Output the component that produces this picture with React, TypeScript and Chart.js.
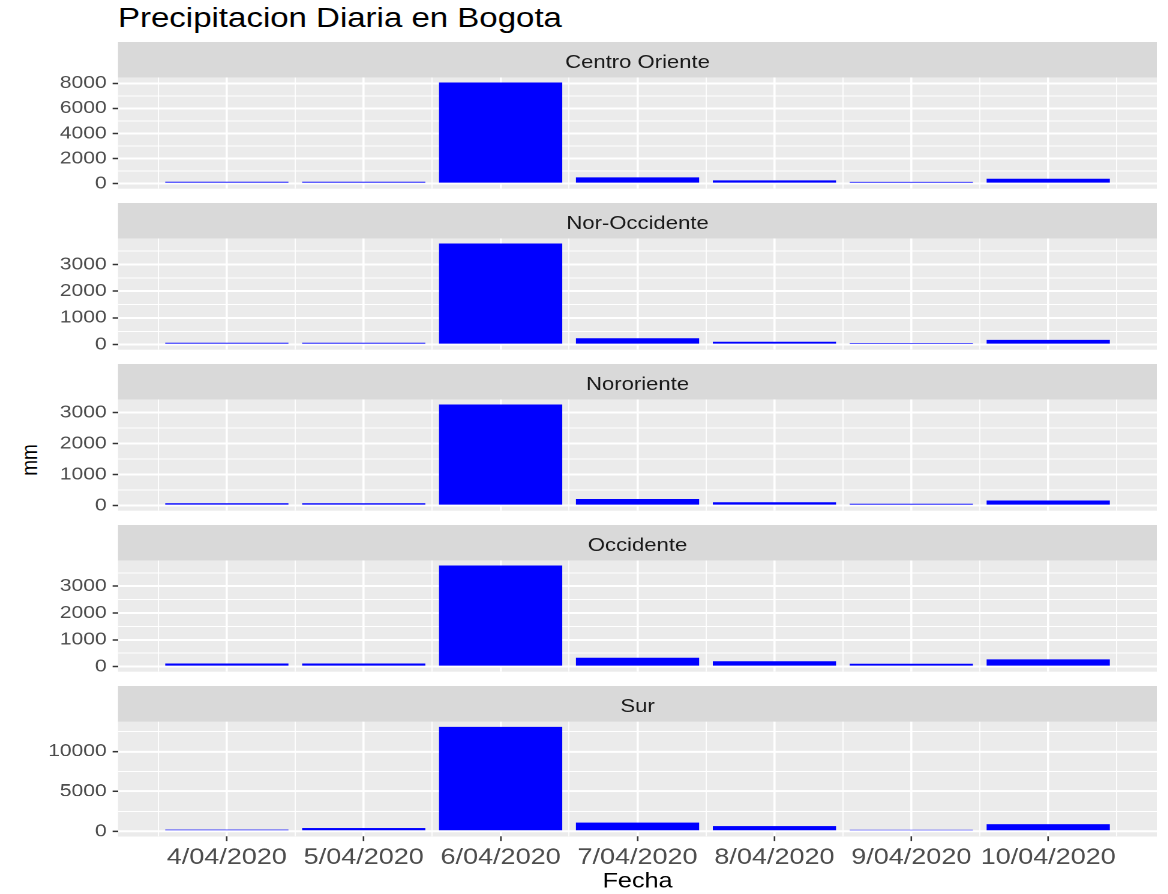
import React, { useEffect, useRef } from "react";
import { Chart, registerables } from "chart.js";

Chart.register(...registerables);

// ---------- data ----------
const FECHAS = ["4/04/2020", "5/04/2020", "6/04/2020", "7/04/2020", "8/04/2020", "9/04/2020", "10/04/2020"];
const REGIONES = ["Centro Oriente", "Nor-Occidente", "Nororiente", "Occidente", "Sur"];

const CENTRO_ORIENTE = [155, 155, 8060, 500, 260, 145, 390];
const NOR_OCCIDENTE = [72, 72, 3783, 240, 110, 60, 180];
const NORORIENTE = [78, 78, 3262, 215, 110, 60, 165];
const OCCIDENTE = [115, 115, 3770, 330, 200, 110, 270];
const SUR = [220, 420, 13100, 1100, 650, 200, 870];

const Y_BREAKS_CENTRO_ORIENTE = [0, 2000, 4000, 6000, 8000];
const Y_BREAKS_NOR_OCCIDENTE = [0, 1000, 2000, 3000];
const Y_BREAKS_NORORIENTE = [0, 1000, 2000, 3000];
const Y_BREAKS_OCCIDENTE = [0, 1000, 2000, 3000];
const Y_BREAKS_SUR = [0, 5000, 10000];

const SERIES = [CENTRO_ORIENTE, NOR_OCCIDENTE, NORORIENTE, OCCIDENTE, SUR];
const Y_BREAKS = [Y_BREAKS_CENTRO_ORIENTE, Y_BREAKS_NOR_OCCIDENTE, Y_BREAKS_NORORIENTE, Y_BREAKS_OCCIDENTE, Y_BREAKS_SUR];

const TITULO = "Precipitacion Diaria en Bogota";
const X_TITULO = "Fecha";
const Y_TITULO = "mm";

// ---------- layout / style ----------
const SX = 1.2; // horizontal stretch of the whole figure
const FONT = "'Liberation Sans', Arial, Helvetica, sans-serif";
const FIG_W = 1168 / SX;
const PLOT_LEFT = 118 / SX;
const PLOT_RIGHT = 1157 / SX;
const STRIP_TOP0 = 42;
const PANEL_STEP = 161;
const STRIP_H = 35.5;
const PLOT_H = 114.7;
const BOTTOM_AXIS_H = 57.7;
const GAP_PAD = 12;
const BAR_W = 0.9;

const X_POS = FECHAS.map((_, i) => i);
const X_LO = -BAR_W / 2;
const X_HI = FECHAS.length - 1 + BAR_W / 2;
const X_MIN = X_LO - 0.05 * (X_HI - X_LO);
const X_MAX = X_HI + 0.05 * (X_HI - X_LO);

function withMinor(breaks: number[], lo: number, hi: number): number[] {
  const step = breaks[1] - breaks[0];
  const half = step / 2;
  const out: number[] = [];
  const start = breaks[0] - half * Math.ceil((breaks[0] - lo) / half);
  for (let k = 0; ; k++) {
    const v = Math.round((start + k * half) * 1e6) / 1e6;
    if (v > hi + 1e-9) break;
    if (v >= lo) out.push(v);
  }
  return out;
}

const facetBg = {
  id: "facetBg",
  beforeDraw(chart: any) {
    const { ctx, chartArea: a } = chart;
    ctx.save();
    ctx.fillStyle = "#D9D9D9";
    ctx.fillRect(a.left, 0, a.right - a.left, a.top);
    ctx.fillStyle = "#EBEBEB";
    ctx.fillRect(a.left, a.top, a.right - a.left, a.bottom - a.top);
    ctx.restore();
  },
};

function Panel({ index }: { index: number }) {
  const ref = useRef<HTMLCanvasElement>(null);
  const last = index === REGIONES.length - 1;

  useEffect(() => {
    const values = SERIES[index];
    const breaks = Y_BREAKS[index];
    const M = Math.max(...values);
    const yMin = -0.05 * M;
    const yMax = 1.05 * M;
    const yTicks = withMinor(breaks, yMin, yMax);
    const xTicks = withMinor(X_POS, X_MIN, X_MAX);
    const isMajY = (v: number) => breaks.includes(v);
    const isMajX = (v: number) => Number.isInteger(v) && v >= 0 && v < FECHAS.length;

    const chart = new Chart(ref.current as HTMLCanvasElement, {
      type: "bar",
      data: {
        datasets: [
          {
            data: values.map((v, i) => ({ x: X_POS[i], y: v })),
            backgroundColor: "#0000FF",
            borderWidth: 0,
            // the bar ruler uses the half-day (minor) tick spacing, hence x2
            barPercentage: BAR_W * 2,
            categoryPercentage: 1,
          } as any,
        ],
      },
      options: {
        animation: false,
        responsive: true,
        maintainAspectRatio: false,
        devicePixelRatio: 2,
        layout: { padding: { left: 0, right: 0, top: 0, bottom: last ? 0 : GAP_PAD } },
        plugins: {
          legend: { display: false },
          tooltip: { enabled: false },
          title: {
            display: true,
            text: REGIONES[index],
            fullSize: false,
            color: "#1A1A1A",
            font: { family: FONT, size: 18.4, weight: "normal" },
            padding: { top: 10, bottom: 3.4 },
          },
        },
        scales: {
          x: {
            type: "linear",
            min: X_MIN,
            max: X_MAX,
            offset: false,
            afterBuildTicks: (s: any) => {
              s.ticks = xTicks.map((v) => ({ value: v }));
            },
            afterFit: (s: any) => {
              s.height = last ? BOTTOM_AXIS_H : 0;
            },
            border: { display: false },
            grid: {
              offset: false,
              color: "#FFFFFF",
              lineWidth: (c: any) => (isMajX(c.tick?.value) ? 1.8 : 0.9),
              drawTicks: last,
              tickLength: 4.5,
              tickWidth: 1.3,
              tickColor: (c: any) => (isMajX(c.tick?.value) ? "#333333" : "rgba(0,0,0,0)"),
            },
            ticks: {
              display: last,
              autoSkip: false,
              maxRotation: 0,
              minRotation: 0,
              padding: 3,
              color: "#4D4D4D",
              font: { family: FONT, size: 22.5 },
              callback: (v: any) => (isMajX(Number(v)) ? FECHAS[Number(v)] : ""),
            },
            title: {
              display: last,
              text: X_TITULO,
              color: "#000000",
              font: { family: FONT, size: 21 },
              padding: { top: 0, bottom: 0 },
            },
          },
          y: {
            type: "linear",
            min: yMin,
            max: yMax,
            afterBuildTicks: (s: any) => {
              s.ticks = yTicks.map((v) => ({ value: v }));
            },
            afterFit: (s: any) => {
              s.width = PLOT_LEFT;
            },
            border: { display: false },
            grid: {
              color: "#FFFFFF",
              lineWidth: (c: any) => (isMajY(c.tick?.value) ? 2 : 1),
              drawTicks: true,
              tickLength: 4.5,
              tickWidth: 1.5,
              tickColor: (c: any) => (isMajY(c.tick?.value) ? "#333333" : "rgba(0,0,0,0)"),
            },
            ticks: {
              autoSkip: false,
              padding: 5,
              color: "#4D4D4D",
              font: { family: FONT, size: 17.5 },
              callback: (v: any) => (isMajY(Number(v)) ? String(v) : ""),
            },
          },
        },
      },
      plugins: [facetBg],
    } as any);
    return () => chart.destroy();
  }, [index, last]);

  const top = STRIP_TOP0 + PANEL_STEP * index;
  const h = STRIP_H + PLOT_H + (last ? BOTTOM_AXIS_H : GAP_PAD);
  return (
    <div style={{ position: "absolute", left: 0, top, width: PLOT_RIGHT, height: h }}>
      <canvas ref={ref} />
    </div>
  );
}

export default function App() {
  return (
    <div
      style={{
        position: "absolute",
        left: 0,
        top: 0,
        width: FIG_W,
        height: 894,
        background: "#FFFFFF",
        transform: `scaleX(${SX})`,
        transformOrigin: "0 0",
        fontFamily: FONT,
        overflow: "hidden",
      }}
    >
      <div
        style={{
          position: "absolute",
          left: PLOT_LEFT,
          top: 4,
          fontSize: 27.5,
          lineHeight: 1,
          color: "#000000",
          whiteSpace: "nowrap",
        }}
      >
        {TITULO}
      </div>
      <div
        style={{
          position: "absolute",
          left: 23.5,
          top: 460,
          fontSize: 19,
          lineHeight: 1,
          color: "#000000",
          transform: "translate(-50%, -50%) rotate(-90deg)",
          whiteSpace: "nowrap",
        }}
      >
        {Y_TITULO}
      </div>
      {REGIONES.map((_, i) => (
        <Panel key={i} index={i} />
      ))}
    </div>
  );
}
